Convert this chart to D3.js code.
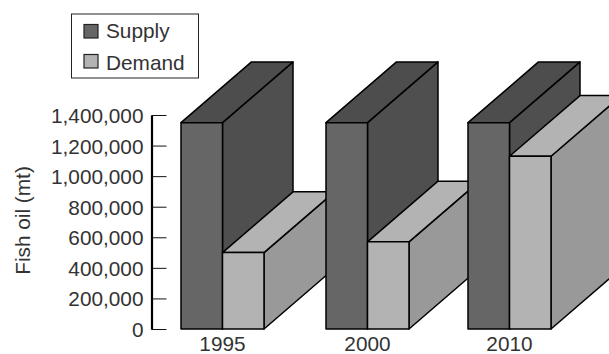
<!DOCTYPE html>
<html><head><meta charset="utf-8">
<script src="https://cdn.jsdelivr.net/npm/d3@7"></script>
<style>
html,body{margin:0;padding:0;background:#fff;overflow:hidden}
text{font-family:"Liberation Sans",Arial,sans-serif;fill:#333}
</style></head><body><svg id="c" width="609" height="354"></svg>
<script>
const categories=["1995","2000","2010"];
const seriesNames=["Supply","Demand"];
const supply=[1350000,1350000,1350000];
const demand=[500000,570000,1130000];
const yTicks=[0,200000,400000,600000,800000,1000000,1200000,1400000];
const fs=20.8;
const svg=d3.select("#c");
const y=d3.scaleLinear().domain([0,1400000]).range([329,115]);
const xc=d3.scaleOrdinal().domain(categories).range([222.5,367.5,509.5]);
const bw=41.5, dx=70.5, dy=60.7;
const fills={Supply:{front:"#666666",top:"#4d4d4d",side:"#4f4f4f"},Demand:{front:"#b3b3b3",top:"#b3b3b3",side:"#999999"}};
function box(g,x0,x1,v,c){
  const t=y(v),b=y(0);
  const line=d3.line();
  const st={stroke:"#000","stroke-width":1.5,"stroke-linejoin":"round"};
  const poly=(pts,f)=>{const p=g.append("path").attr("d",line(pts)+"Z").attr("fill",f);for(const k in st)p.attr(k,st[k]);};
  poly([[x1,b],[x1+dx,b-dy],[x1+dx,t-dy],[x1,t]],c.side);
  poly([[x0,t],[x0+dx,t-dy],[x1+dx,t-dy],[x1,t]],c.top);
  poly([[x0,b],[x1,b],[x1,t],[x0,t]],c.front);
}
categories.forEach((cat,i)=>{
  const g=svg.append("g"),c=xc(cat);
  box(g,c-bw,c,supply[i],fills.Supply);
  box(g,c,c+bw,demand[i],fills.Demand);
  svg.append("text").attr("x",c).attr("y",351).attr("text-anchor","middle").attr("font-size",fs).text(cat);
});
const ax=svg.append("g").attr("transform","translate(151.5,0)")
 .call(d3.axisLeft(y).tickValues(yTicks).tickFormat(d3.format(",")).tickSizeInner(-15).tickSizeOuter(0).tickPadding(8));
ax.select(".domain").attr("stroke","#000").attr("stroke-width",2.2);
ax.selectAll(".tick line").attr("stroke","#111").attr("stroke-width",1);
ax.selectAll(".tick text").attr("font-size",fs).attr("font-family",null).attr("dy","0.36em");
ax.attr("font-family",null);
svg.append("text").attr("transform","translate(29.5,220.5) rotate(-90)").attr("text-anchor","middle").attr("font-size",fs).text("Fish oil (mt)");
svg.append("rect").attr("x",71.5).attr("y",14).attr("width",127).attr("height",64).attr("fill","#fff").attr("stroke","#222").attr("stroke-width",1);
seriesNames.forEach((n,i)=>{
  svg.append("rect").attr("x",84).attr("y",24.5+i*30).attr("width",14).attr("height",13.5).attr("fill",fills[n].front).attr("stroke","#222").attr("stroke-width",1.2);
  svg.append("text").attr("x",106).attr("y",37.8+i*32).attr("font-size",fs).text(n);
});
</script></body></html>
